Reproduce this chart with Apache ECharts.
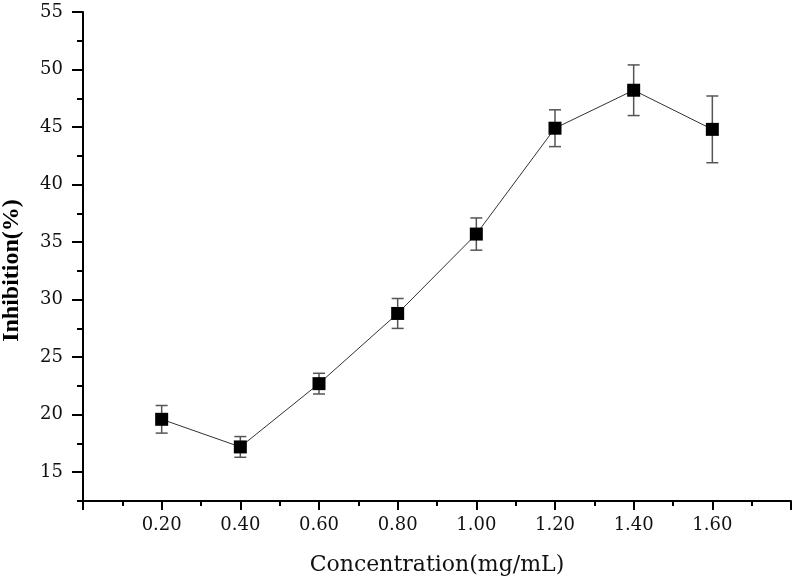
<!DOCTYPE html>
<html>
<head>
<meta charset="utf-8">
<script src="https://cdn.jsdelivr.net/npm/echarts@6/dist/echarts.min.js"></script>
<style>
  html, body { margin: 0; padding: 0; background: #fff; }
  #chart { width: 800px; height: 582px; }
</style>
</head>
<body>
<div id="chart"></div>
<script>
// values
const concentration = [0.2, 0.4, 0.6, 0.8, 1.0, 1.2, 1.4, 1.6]
const inhibition = [19.6, 17.2, 22.7, 28.8, 35.7, 44.9, 48.2, 44.8]
const errors = [1.2, 0.9, 0.9, 1.3, 1.4, 1.6, 2.2, 2.9]
const xTickLabels = [0.2, 0.4, 0.6, 0.8, 1.0, 1.2, 1.4, 1.6]
const yTickLabels = [15, 20, 25, 30, 35, 40, 45, 50, 55]

const labelFont = 'DejaVu Serif'

const chart = echarts.init(document.getElementById('chart'))

chart.setOption({
  animation: false,
  backgroundColor: '#fff',
  grid: {
    left: 83,
    right: 9,
    top: 12,
    bottom: 81,
    outerBoundsMode: 'none'
  },
  xAxis: {
    type: 'value',
    min: 0,
    max: 1.8,
    interval: 0.2,
    name: 'Concentration(mg/mL)',
    nameLocation: 'middle',
    nameGap: 53,
    nameTextStyle: {
      fontFamily: labelFont,
      fontSize: 22,
      color: '#111'
    },
    axisLine: {
      lineStyle: { color: '#000', width: 2 }
    },
    axisTick: {
      inside: false,
      length: 9,
      lineStyle: { color: '#000', width: 2 }
    },
    minorTick: {
      show: true,
      splitNumber: 2,
      length: 5,
      lineStyle: { color: '#000', width: 2 }
    },
    axisLabel: {
      customValues: xTickLabels,
      formatter: v => v.toFixed(2),
      fontFamily: labelFont,
      fontSize: 18,
      color: '#111',
      margin: 15
    },
    splitLine: { show: false }
  },
  yAxis: [{
    type: 'value',
    min: 12.5,
    max: 55,
    interval: 2.5,
    name: 'Inhibition(%)',
    nameLocation: 'middle',
    nameGap: 59,
    nameTextStyle: {
      fontFamily: 'Liberation Serif',
      fontWeight: 'bold',
      fontSize: 24,
      color: '#000',
      padding: [0, 28, 0, 0]
    },
    axisLine: {
      show: true,
      lineStyle: { color: '#000', width: 2 }
    },
    axisTick: {
      show: true,
      inside: false,
      length: 11,
      customValues: yTickLabels,
      lineStyle: { color: '#000', width: 2 }
    },
    axisLabel: {
      customValues: yTickLabels,
      fontFamily: labelFont,
      fontSize: 18,
      color: '#111',
      margin: 20
    },
    splitLine: { show: false }
  }, {
    // short ticks every 2.5
    type: 'value',
    position: 'left',
    min: 12.5,
    max: 55,
    interval: 2.5,
    axisLine: { show: false },
    axisTick: {
      show: true,
      inside: false,
      length: 6,
      lineStyle: { color: '#000', width: 2 }
    },
    axisLabel: { show: false },
    splitLine: { show: false }
  }],
  series: [{
    type: 'custom',
    z: 2,
    data: concentration.map((c, i) => [c, inhibition[i], errors[i]]),
    encode: { x: 0, y: 1 },
    renderItem: function(params, api) {
      const x = api.value(0)
      const y = api.value(1)
      const e = api.value(2)
      const top = api.coord([x, y + e])
      const bottom = api.coord([x, y - e])
      const half = 6
      const style = { stroke: '#555', lineWidth: 1.5 }
      return {
        type: 'group',
        children: [
          { type: 'line', shape: { x1: top[0], y1: top[1], x2: bottom[0], y2: bottom[1] }, style },
          { type: 'line', shape: { x1: top[0] - half, y1: top[1], x2: top[0] + half, y2: top[1] }, style },
          { type: 'line', shape: { x1: bottom[0] - half, y1: bottom[1], x2: bottom[0] + half, y2: bottom[1] }, style }
        ]
      }
    }
  }, {
    type: 'line',
    z: 3,
    data: concentration.map((c, i) => [c, inhibition[i]]),
    symbol: 'rect',
    symbolSize: 13,
    itemStyle: { color: '#000' },
    lineStyle: { color: '#333', width: 1 }
  }]
})
</script>
</body>
</html>
